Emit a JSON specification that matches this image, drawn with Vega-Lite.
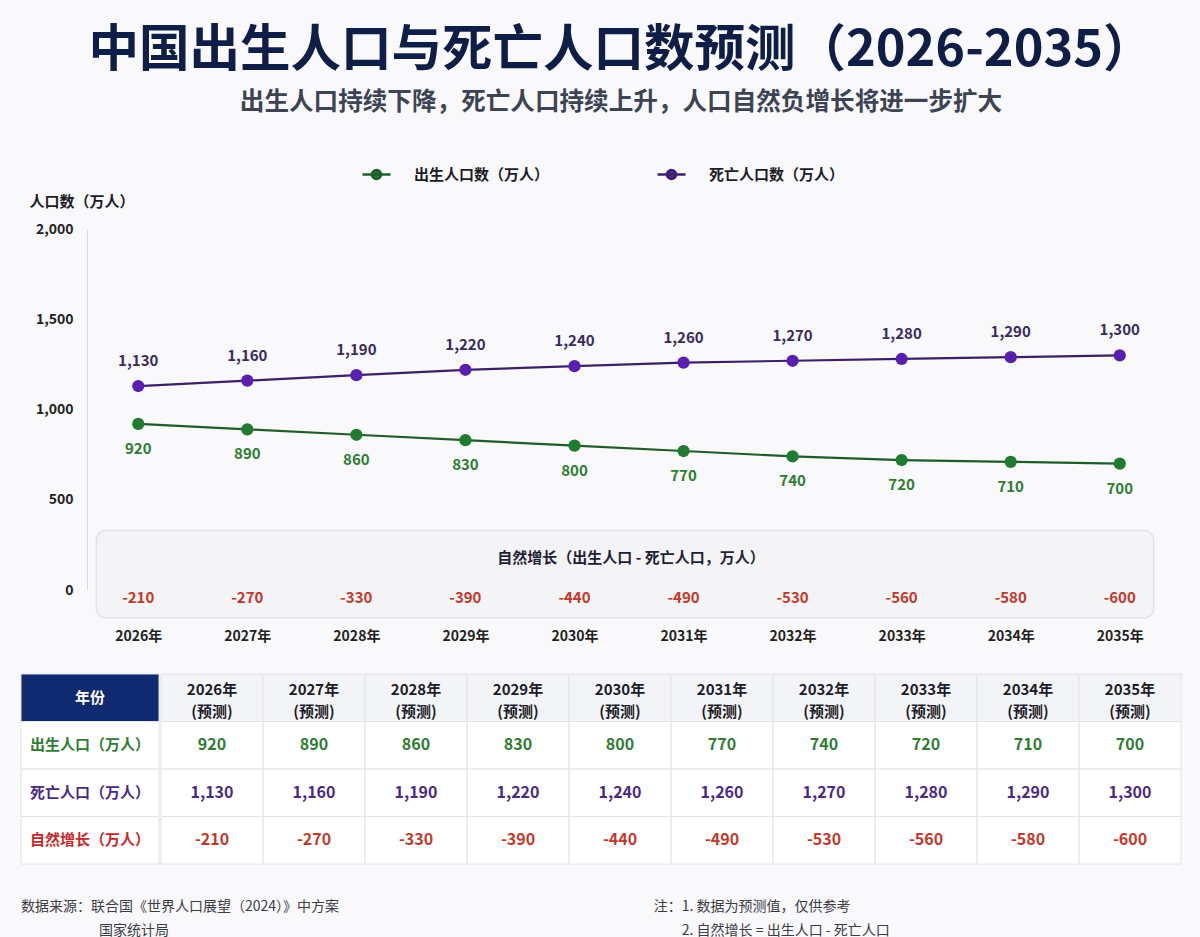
{
  "$schema": "https://vega.github.io/schema/vega-lite/v6.json",
  "background": "#f9f8fa",
  "padding": {"left": 20, "right": 22, "top": 25, "bottom": 0},
  "config": {
    "font": "Noto Sans CJK SC",
    "view": {"stroke": null},
    "locale": {
      "number": {"decimal": ".", "thousands": ",", "grouping": [3], "currency": ["", ""], "minus": "-"}
    }
  },
  "title": {
    "text": "中国出生人口与死亡人口数预测（2026-2035）",
    "subtitle": "出生人口持续下降，死亡人口持续上升，人口自然负增长将进一步扩大",
    "anchor": "middle",
    "dx": 20,
    "fontSize": 50.5,
    "fontWeight": "bold",
    "color": "#0f1e46",
    "subtitleFontSize": 24.6,
    "subtitleFontWeight": "bold",
    "subtitleColor": "#3c4454",
    "subtitlePadding": 15,
    "offset": 44
  },
  "datasets": {
    "pop": [
      {"year": "2026", "birth": 920, "death": 1130, "net": -210},
      {"year": "2027", "birth": 890, "death": 1160, "net": -270},
      {"year": "2028", "birth": 860, "death": 1190, "net": -330},
      {"year": "2029", "birth": 830, "death": 1220, "net": -390},
      {"year": "2030", "birth": 800, "death": 1240, "net": -440},
      {"year": "2031", "birth": 770, "death": 1260, "net": -490},
      {"year": "2032", "birth": 740, "death": 1270, "net": -530},
      {"year": "2033", "birth": 720, "death": 1280, "net": -560},
      {"year": "2034", "birth": 710, "death": 1290, "net": -580},
      {"year": "2035", "birth": 700, "death": 1300, "net": -600}
    ],
    "rows": [
      {"row": "header", "label": "年份"},
      {"row": "birth", "label": "出生人口（万人）"},
      {"row": "death", "label": "死亡人口（万人）"},
      {"row": "net", "label": "自然增长（万人）"}
    ],
    "notes": [
      {"col": "source", "line": 1, "text": "数据来源：联合国《世界人口展望（2024）》中方案"},
      {"col": "source", "line": 2, "text": "国家统计局"},
      {"col": "note", "line": 1, "text": "注：1. 数据为预测值，仅供参考"},
      {"col": "note", "line": 2, "text": "2. 自然增长 = 出生人口 - 死亡人口"}
    ]
  },
  "spacing": 30,
  "vconcat": [
    {
      "width": 1150,
      "height": 361,
      "layer": [
        {
          "data": {"values": [{"band": "natural"}]},
          "mark": {"type": "rect", "cornerRadius": 10, "fill": "#f4f3f6", "stroke": "#e3e2e8", "strokeWidth": 1.5, "xOffset": -42, "x2Offset": 34},
          "encoding": {
            "x": {"datum": "2026", "type": "ordinal"},
            "x2": {"datum": "2035"},
            "y": {"datum": 330, "type": "quantitative"},
            "y2": {"datum": -155}
          }
        },
        {
          "data": {"values": [{"band": "natural"}]},
          "mark": {"type": "text", "dx": 35, "fontSize": 15, "fontWeight": "bold", "color": "#1e2235", "baseline": "middle"},
          "encoding": {
            "y": {"datum": 177, "type": "quantitative"},
            "text": {"value": "自然增长（出生人口 - 死亡人口，万人）"}
          }
        },
        {
          "data": {"name": "pop"},
          "transform": [{"fold": ["birth", "death"], "as": ["key", "value"]}],
          "mark": {"type": "line", "strokeWidth": 2.2},
          "encoding": {
            "x": {
              "field": "year",
              "type": "ordinal",
              "scale": {"type": "point", "padding": 0.47, "range": [66, 1150]},
              "axis": {
                "title": null,
                "labelExpr": "datum.value + '年'",
                "labelAngle": 0,
                "labelAlign": "center",
                "labelFontSize": 14,
                "labelFontWeight": "bold",
                "labelColor": "#222222",
                "labelPadding": 46,
                "domain": false,
                "ticks": false,
                "grid": false
              }
            },
            "y": {
              "field": "value",
              "type": "quantitative",
              "scale": {"domain": [0, 2000], "nice": false},
              "axis": {
                "offset": -66,
                "title": "人口数（万人）",
                "titleAngle": 0,
                "titleX": -58,
                "titleY": -28,
                "titleAlign": "left",
                "titleBaseline": "middle",
                "titleFontSize": 15,
                "titleFontWeight": "bold",
                "titleColor": "#1c1c28",
                "values": [0, 500, 1000, 1500, 2000],
                "labelExpr": "format(datum.value, ',')",
                "labelFontSize": 14,
                "labelFontWeight": "bold",
                "labelColor": "#222222",
                "labelPadding": 14,
                "ticks": false,
                "domainColor": "#d9d9de",
                "gridColor": "#e9e9ee"
              }
            },
            "stroke": {
              "field": "key",
              "type": "nominal",
              "scale": {"domain": ["birth", "death"], "range": ["#1f5c2a", "#3d1f66"]},
              "legend": {
                "orient": "none",
                "legendX": 340,
                "legendY": -70,
                "direction": "horizontal",
                "title": null,
                "labelExpr": "datum.label === 'birth' ? '出生人口数（万人）' : '死亡人口数（万人）'",
                "symbolType": "M-1,0H1M0.32,0A0.32,0.32,0,1,1,-0.32,0A0.32,0.32,0,1,1,0.32,0",
                "symbolSize": 784,
                "symbolStrokeWidth": 2.5,
                "labelFontSize": 15,
                "labelFontWeight": "bold",
                "labelColor": "#1c1c28",
                "labelOffset": 22,
                "columnPadding": 102
              }
            }
          }
        },
        {
          "data": {"name": "pop"},
          "transform": [{"fold": ["birth", "death"], "as": ["key", "value"]}],
          "mark": {"type": "point", "filled": true, "opacity": 1, "size": 150, "strokeWidth": 0},
          "encoding": {
            "x": {"field": "year", "type": "ordinal"},
            "y": {"field": "value", "type": "quantitative"},
            "fill": {
              "field": "key",
              "type": "nominal",
              "scale": {"domain": ["birth", "death"], "range": ["#1e7b30", "#5a1fae"]},
              "legend": {
                "orient": "none",
                "legendX": 340,
                "legendY": -70,
                "direction": "horizontal",
                "title": null,
                "labelExpr": "datum.label === 'birth' ? '出生人口数（万人）' : '死亡人口数（万人）'",
                "symbolType": "M-1,0H1M0.32,0A0.32,0.32,0,1,1,-0.32,0A0.32,0.32,0,1,1,0.32,0",
                "symbolSize": 784,
                "symbolStrokeWidth": 2.5,
                "labelFontSize": 15,
                "labelFontWeight": "bold",
                "labelColor": "#1c1c28",
                "labelOffset": 22,
                "columnPadding": 102
              }
            }
          }
        },
        {
          "data": {"name": "pop"},
          "mark": {"type": "text", "dy": -25, "fontSize": 15, "fontWeight": "bold", "color": "#3a2b5e"},
          "encoding": {
            "x": {"field": "year", "type": "ordinal"},
            "y": {"field": "death", "type": "quantitative"},
            "text": {"field": "death", "type": "quantitative", "format": ","}
          }
        },
        {
          "data": {"name": "pop"},
          "mark": {"type": "text", "dy": 25, "fontSize": 15, "fontWeight": "bold", "color": "#2e7d32"},
          "encoding": {
            "x": {"field": "year", "type": "ordinal"},
            "y": {"field": "birth", "type": "quantitative"},
            "text": {"field": "birth", "type": "quantitative", "format": ","}
          }
        },
        {
          "data": {"name": "pop"},
          "mark": {"type": "text", "fontSize": 15, "fontWeight": "bold", "color": "#c0392b"},
          "encoding": {
            "x": {"field": "year", "type": "ordinal"},
            "y": {"datum": -45, "type": "quantitative"},
            "text": {"field": "net", "type": "quantitative", "format": "d"}
          }
        }
      ]
    },
    {
      "spacing": 0,
      "hconcat": [
        {
          "width": 138,
          "height": 190,
          "data": {"name": "rows"},
          "encoding": {
            "y": {
              "field": "row",
              "type": "nominal",
              "scale": {"domain": ["header", "birth", "death", "net"], "paddingInner": 0, "paddingOuter": 0},
              "axis": null
            }
          },
          "layer": [
            {
              "mark": {"type": "rect", "stroke": "#e2e2e8", "strokeWidth": 1},
              "encoding": {
                "fill": {
                  "condition": {"test": "datum.row === 'header'", "value": "#0f2a6e"},
                  "value": "#ffffff"
                }
              }
            },
            {
              "mark": {"type": "text", "fontSize": 15, "fontWeight": "bold"},
              "encoding": {
                "text": {"field": "label"},
                "color": {
                  "condition": [
                    {"test": "datum.row === 'header'", "value": "#ffffff"},
                    {"test": "datum.row === 'birth'", "value": "#2e7d32"},
                    {"test": "datum.row === 'death'", "value": "#4b2a86"}
                  ],
                  "value": "#c62828"
                }
              }
            }
          ]
        },
        {
          "width": 1020,
          "height": 190,
          "data": {"name": "pop"},
          "layer": [
            {
              "mark": {"type": "rect", "fill": "#f3f4f7", "stroke": "#e2e2e8", "strokeWidth": 1},
              "encoding": {
                "x": {"field": "year", "type": "ordinal", "scale": {"paddingInner": 0, "paddingOuter": 0}, "axis": null},
                "y": {
                  "datum": "header",
                  "type": "nominal",
                  "scale": {"domain": ["header", "birth", "death", "net"], "paddingInner": 0, "paddingOuter": 0},
                  "axis": null
                }
              }
            },
            {
              "transform": [{"fold": ["birth", "death", "net"], "as": ["key", "value"]}],
              "mark": {"type": "rect", "fill": "#ffffff", "stroke": "#e2e2e8", "strokeWidth": 1},
              "encoding": {
                "x": {"field": "year", "type": "ordinal"},
                "y": {"field": "key", "type": "nominal"}
              }
            },
            {
              "mark": {
                "type": "text",
                "text": {"expr": "[datum.year + '年', '(预测)']"},
                "lineHeight": 22,
                "dy": -8,
                "fontSize": 15,
                "fontWeight": "bold",
                "color": "#1c1c28"
              },
              "encoding": {
                "x": {"field": "year", "type": "ordinal"},
                "y": {"datum": "header", "type": "nominal"}
              }
            },
            {
              "transform": [{"fold": ["birth", "death", "net"], "as": ["key", "value"]}],
              "mark": {"type": "text", "fontSize": 16, "fontWeight": "bold"},
              "encoding": {
                "x": {"field": "year", "type": "ordinal"},
                "y": {"field": "key", "type": "nominal"},
                "text": {"field": "value", "type": "quantitative", "format": ","},
                "color": {
                  "condition": [
                    {"test": "datum.key === 'birth'", "value": "#2e7d32"},
                    {"test": "datum.key === 'death'", "value": "#4b2a86"}
                  ],
                  "value": "#c0392b"
                }
              }
            }
          ]
        }
      ]
    },
    {
      "width": 1158,
      "height": 48,
      "data": {"name": "notes"},
      "encoding": {
        "x": {
          "field": "col",
          "type": "nominal",
          "bandPosition": 0,
          "scale": {"type": "band", "domain": ["source", "note"], "paddingInner": 0.17, "paddingOuter": 0},
          "axis": null
        },
        "y": {
          "field": "line",
          "type": "ordinal",
          "scale": {"paddingInner": 0, "paddingOuter": 0},
          "axis": null
        },
        "text": {"field": "text"}
      },
      "layer": [
        {
          "transform": [{"filter": "datum.line === 1"}],
          "mark": {"type": "text", "align": "left", "fontSize": 14, "color": "#3c3c46"}
        },
        {
          "transform": [{"filter": "datum.line === 2 && datum.col === 'source'"}],
          "mark": {"type": "text", "align": "left", "dx": 78, "fontSize": 14, "color": "#3c3c46"}
        },
        {
          "transform": [{"filter": "datum.line === 2 && datum.col === 'note'"}],
          "mark": {"type": "text", "align": "left", "dx": 28, "fontSize": 14, "color": "#3c3c46"}
        }
      ]
    }
  ]
}
